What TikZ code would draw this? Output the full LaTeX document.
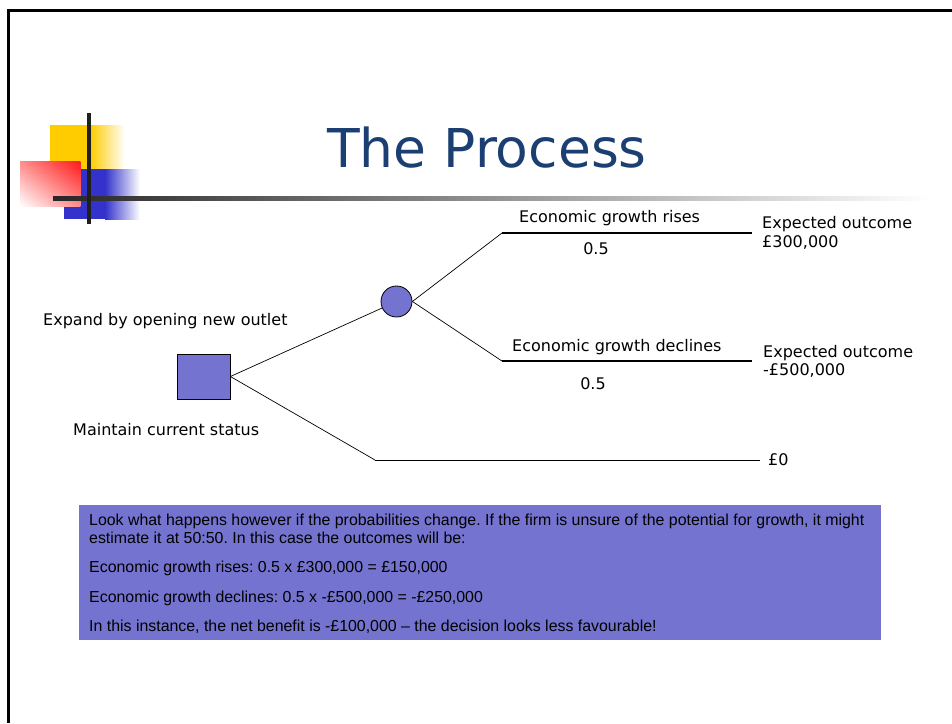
\documentclass[tikz,border=0pt]{standalone}
\usepackage{fontspec}
\setmainfont{DejaVu Sans}
\newfontfamily\boxfont{Liberation Sans}
\usetikzlibrary{calc}
\frenchspacing
\definecolor{nodefill}{HTML}{7474D0}
\definecolor{titleblue}{HTML}{1B3F73}
\definecolor{logoyellow}{HTML}{FFCC00}
\definecolor{logoblue}{HTML}{3333CC}
\definecolor{logored}{HTML}{FF1A1A}
\tikzset{
  decision/.style={draw=black, fill=nodefill, line width=0.8pt, minimum width=53pt, minimum height=45pt, inner sep=0pt},
  chance/.style={draw=black, fill=nodefill, line width=0.8pt, circle, minimum size=31pt, inner sep=0pt},
  branch/.style={draw=black, line width=0.7pt},
  outcome/.style={draw=black, line width=1.2pt},
  lbl/.style={font=\fontsize{16}{18.5}\selectfont, inner sep=0pt, anchor=west},
  prob/.style={font=\fontsize{16}{18.5}\selectfont, inner sep=0pt},
  notes/.style={font=\boxfont\fontsize{15.9}{17}\selectfont, inner sep=0pt, anchor=west}
}
\begin{document}
\begin{tikzpicture}[x=1pt, y=-1pt]
\useasboundingbox (0,0) rectangle (952,723);
\fill[white] (0,0) rectangle (952,723);

% slide frame
\draw[black, line width=3pt] (8,723) -- (8,10) -- (952,10);

% corner logo: yellow and blue squares fading to the right
\fill[logoyellow] (50,125) rectangle (90,169);
\shade[left color=logoyellow, right color=white] (90,125) rectangle (125,169);
\fill[logoblue] (64,169) rectangle (105,219);
\shade[left color=logoblue, right color=white] (105,169) rectangle (140,219);
% red square: diagonal fade, strongest at top right, white at bottom left
\foreach \i in {0,...,29} {
  \pgfmathsetmacro\redtop{50*(\i+0.5)/30+50}
  \pgfmathsetmacro\redbot{50*(\i+0.5)/30}
  \shade[top color=logored!\redtop!white, bottom color=logored!\redbot!white]
    ({20+2*\i},161) rectangle ({22.4+2*\i},206);
}
% crossing rules
\shade[left color=black!85, right color=white] (53,196) rectangle (930,200);
\fill[black!88] (87,113) rectangle (91,224);

% title
\node[text=titleblue, font=\fontsize{53.5}{60}\selectfont, inner sep=0pt] (title) at (487,148) {The Process};

% decision tree
\node[decision] (dec) at (203.5,376.5) {};
\node[chance] (ch) at (396.5,301.5) {};
\coordinate (upk) at (502,233);
\coordinate (upe) at (752,233);
\coordinate (dnk) at (502,361);
\coordinate (dne) at (752,361);
\coordinate (stk) at (375,460);
\coordinate (ste) at (760,460);

\draw[branch] (dec.east) -- (ch);
\draw[branch] (dec.east) -- (stk);
\draw[branch] (stk) -- (ste);
\draw[branch] (ch.east) -- (upk);
\draw[outcome] (upk) -- (upe);
\draw[branch] (ch.east) -- (dnk);
\draw[outcome] (dnk) -- (dne);

% labels
\node[lbl] (l1) at (519,218) {Economic growth rises};
\node[prob] (p1) at (596,249) {0.5};
\node[lbl, align=left] (o1) at (762,233) {Expected outcome\\£300,000};
\node[lbl] (l2) at (512,347) {Economic growth declines};
\node[prob] (p2) at (593,384) {0.5};
\node[lbl, align=left] (o2) at (763,361.5) {Expected outcome\\-£500,000};
\node[lbl] (l3) at (43,321) {Expand by opening new outlet};
\node[lbl] (l4) at (73,430) {Maintain current status};
\node[lbl] (o3) at (768,460) {£0};

% notes panel
\fill[nodefill] (79,505) rectangle (881,640);
\node[notes] (n1) at (89,521) {Look what happens however if the probabilities change. If the firm is unsure of the potential for growth, it might};
\node[notes] (n2) at (89,538) {estimate it at 50:50. In this case the outcomes will be:};
\node[notes] (n3) at (89,568) {Economic growth rises: 0.5 x £300,000 = £150,000};
\node[notes] (n4) at (89,598) {Economic growth declines: 0.5 x -£500,000 = -£250,000};
\node[notes] (n5) at (89,627) {In this instance, the net benefit is -£100,000 – the decision looks less favourable!};
\end{tikzpicture}
\end{document}
